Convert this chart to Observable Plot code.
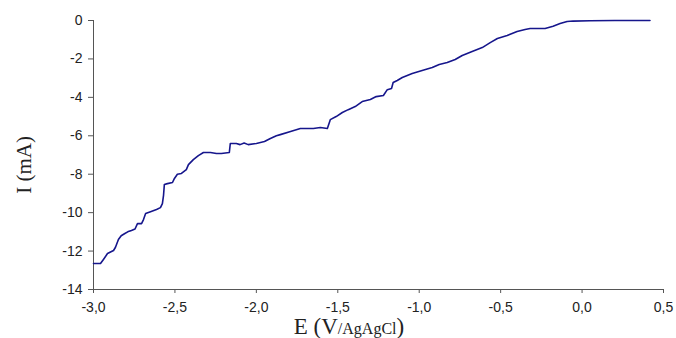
<!DOCTYPE html>
<html>
<head>
<meta charset="utf-8">
<script src="https://cdn.jsdelivr.net/npm/d3@7"></script>
<script src="https://cdn.jsdelivr.net/npm/@observablehq/plot@0.6"></script>
<style>
  html, body { margin: 0; padding: 0; background: #fff; }
  #chart { width: 676px; height: 338px; }
</style>
</head>
<body>
<div id="chart"></div>
<script>
const potential = [-3.0, -2.957, -2.94, -2.914, -2.877, -2.865, -2.847, -2.83, -2.81, -2.79, -2.767, -2.745, -2.73, -2.705, -2.693, -2.68, -2.65, -2.613, -2.589, -2.577, -2.57, -2.565, -2.546, -2.515, -2.503, -2.485, -2.46, -2.43, -2.417, -2.387, -2.356, -2.325, -2.282, -2.245, -2.215, -2.166, -2.16, -2.123, -2.1, -2.075, -2.05, -2.0, -1.95, -1.914, -1.877, -1.853, -1.79, -1.73, -1.65, -1.607, -1.564, -1.546, -1.51, -1.472, -1.436, -1.393, -1.35, -1.30, -1.264, -1.22, -1.196, -1.17, -1.16, -1.135, -1.104, -1.043, -0.982, -0.92, -0.877, -0.828, -0.779, -0.736, -0.675, -0.613, -0.564, -0.52, -0.46, -0.399, -0.35, -0.319, -0.227, -0.178, -0.135, -0.092, -0.055, 0.05, 0.20, 0.417];
const current = [-12.65, -12.65, -12.45, -12.13, -11.97, -11.8, -11.4, -11.2, -11.1, -11.0, -10.93, -10.85, -10.57, -10.57, -10.36, -10.05, -9.95, -9.84, -9.74, -9.53, -9.1, -8.54, -8.49, -8.43, -8.22, -8.0, -7.96, -7.76, -7.5, -7.24, -7.03, -6.87, -6.87, -6.92, -6.92, -6.87, -6.4, -6.4, -6.46, -6.38, -6.46, -6.4, -6.3, -6.14, -6.0, -5.94, -5.78, -5.62, -5.62, -5.57, -5.62, -5.16, -5.0, -4.79, -4.64, -4.48, -4.22, -4.11, -3.96, -3.9, -3.6, -3.54, -3.23, -3.12, -2.97, -2.76, -2.6, -2.45, -2.29, -2.19, -2.03, -1.82, -1.61, -1.41, -1.15, -0.94, -0.78, -0.57, -0.47, -0.42, -0.42, -0.3, -0.16, -0.05, -0.03, -0.01, 0, 0];
const xTicks = [-3.0, -2.5, -2.0, -1.5, -1.0, -0.5, 0.0, 0.5];
const yTicks = [-14, -12, -10, -8, -6, -4, -2, 0];
const xTitleMain = "E (V";
const xTitleSub = "/AgAgCl";
const xTitleEnd = ")";
const yTitle = "I (mA)";

const data = potential.map((e, i) => ({E: e, I: current[i]}));
const axisColor = "#555";

const plot = Plot.plot({
  width: 676,
  height: 338,
  marginLeft: 93,
  marginRight: 13,
  marginTop: 20,
  marginBottom: 49,
  style: {fontFamily: "'Liberation Sans', Arial, sans-serif", fontSize: "14px", color: "#222", background: "#fff"},
  x: {domain: [-3, 0.5], label: null},
  y: {domain: [-14, 0], label: null},
  marks: [
    Plot.axisX({ticks: xTicks, tickSize: 4, tickPadding: 9, stroke: axisColor,
      tickFormat: d => d.toFixed(1).replace(".", ",").replace("\u2212", "-"), fill: "#222", label: null}),
    Plot.axisY({ticks: yTicks, tickSize: 5, tickPadding: 6, stroke: axisColor,
      tickFormat: d => String(d), fill: "#222", label: null}),
    Plot.ruleX([-3], {stroke: axisColor}),
    Plot.ruleY([-14], {stroke: axisColor}),
    Plot.line(data, {x: "E", y: "I", stroke: "#16168c", strokeWidth: 1.6, curve: "linear"})
  ]
});

const svg = d3.select(plot);
const xt = svg.append("text")
  .attr("x", 349).attr("y", 334)
  .attr("text-anchor", "middle")
  .attr("font-family", "'Liberation Serif', 'Times New Roman', serif")
  .attr("fill", "#222");
xt.append("tspan").attr("font-size", 23).text(xTitleMain);
xt.append("tspan").attr("font-size", 16).text(xTitleSub);
xt.append("tspan").attr("font-size", 23).text(xTitleEnd);

svg.append("text")
  .attr("transform", "translate(31,165) rotate(-90)")
  .attr("text-anchor", "middle")
  .attr("font-family", "'Liberation Serif', 'Times New Roman', serif")
  .attr("font-size", 21)
  .attr("fill", "#222")
  .text(yTitle);

document.getElementById("chart").appendChild(plot);
</script>
</body>
</html>
